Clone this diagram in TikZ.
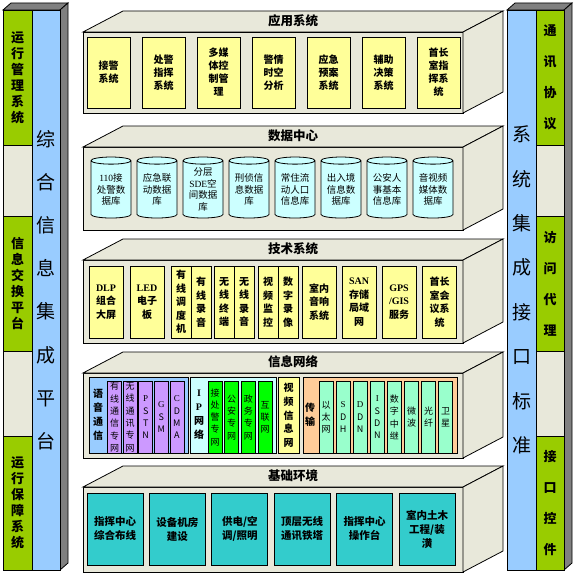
\documentclass[tikz,border=0pt]{standalone}
\usepackage{fontspec}
\setmainfont{Liberation Serif}
\newfontfamily\cjk{Noto Sans CJK SC}
\usepackage{tikz}
\usetikzlibrary{shapes.geometric}
\usepackage{xcolor}
\definecolor{layerbg}{HTML}{E8E8DA}
\definecolor{pillgreen}{HTML}{99CC00}
\definecolor{pillblue}{HTML}{99CCFF}
\definecolor{pillside}{HTML}{808080}
\definecolor{appyellow}{HTML}{FFFF99}
\definecolor{dbcyan}{HTML}{CCFFFF}
\definecolor{netpurple}{HTML}{CC99FF}
\definecolor{netgreen}{HTML}{00FF00}
\definecolor{netorange}{HTML}{FFCC99}
\definecolor{netmint}{HTML}{99FFCC}
\definecolor{basecyan}{HTML}{33CCCC}

\begin{document}
\begin{tikzpicture}[x=1pt, y=-1pt, line width=0.8pt,
    layer/.style={draw, fill=layerbg},
    title/.style={font=\cjk\bfseries\fontsize{12.5}{14}\selectfont},
    appbox/.style={draw, fill=appyellow, minimum width=43pt, minimum height=71pt, inner sep=0pt, align=center, font=\cjk\bfseries\fontsize{10}{13}\selectfont},
    dbcyl/.style={draw, fill=dbcyan, cylinder, shape border rotate=90, aspect=0.25, minimum width=40pt, minimum height=61pt, inner sep=0pt, align=center, font=\cjk\fontsize{9.5}{11.5}\selectfont},
    techbox/.style={draw, fill=appyellow, minimum width=34pt, minimum height=72pt, inner sep=0pt, align=center, font=\cjk\bfseries\fontsize{10}{13.5}\selectfont},
    halfbox/.style={techbox, minimum width=20pt},
    netgroup/.style={draw, minimum height=76.5pt, inner sep=0pt},
    netlabel/.style={align=center, inner sep=0pt, font=\cjk\bfseries\fontsize{10}{14}\selectfont},
    netbox/.style={draw, minimum width=14pt, minimum height=72.5pt, inner sep=0pt, align=center, font=\cjk\fontsize{9}{12.3}\selectfont},
    basebox/.style={draw, fill=basecyan, minimum width=56pt, minimum height=72pt, inner sep=0pt, align=center, font=\cjk\bfseries\fontsize{10.5}{14}\selectfont},
    pillar/.style={draw, inner sep=0pt, align=center},
    sideface/.style={draw, fill=pillside}
]
\useasboundingbox (0,0) rectangle (577,575);
% Layer boxes
\draw[layer] (83,32) rectangle (463,113);
\draw[layer] (83,32) -- (123,11) -- (503,11) -- (463,32) -- cycle;
\draw[layer] (463,32) -- (503,11) -- (503,92) -- (463,113) -- cycle;
\draw[layer] (83,147) rectangle (463,230);
\draw[layer] (83,147) -- (123,126) -- (503,126) -- (463,147) -- cycle;
\draw[layer] (463,147) -- (503,126) -- (503,209) -- (463,230) -- cycle;
\draw[layer] (83,260) rectangle (463,343);
\draw[layer] (83,260) -- (123,239) -- (503,239) -- (463,260) -- cycle;
\draw[layer] (463,260) -- (503,239) -- (503,322) -- (463,343) -- cycle;
\draw[layer] (83,373) rectangle (463,458);
\draw[layer] (83,373) -- (123,352) -- (503,352) -- (463,373) -- cycle;
\draw[layer] (463,373) -- (503,352) -- (503,437) -- (463,458) -- cycle;
\draw[layer] (83,487) rectangle (463,572);
\draw[layer] (83,487) -- (123,466) -- (503,466) -- (463,487) -- cycle;
\draw[layer] (463,487) -- (503,466) -- (503,551) -- (463,572) -- cycle;
% Titles
\node[title] (t-app) at (293,21) {应用系统};
\node[title] (t-data) at (293,136) {数据中心};
\node[title] (t-tech) at (293,249) {技术系统};
\node[title] (t-net) at (293,362) {信息网络};
\node[title] (t-base) at (293,476) {基础环境};
% Application row
\node[appbox] (a1) at (108.5,72.5) {接警\\系统};
\node[appbox] (a2) at (163.5,72.5) {处警\\指挥\\系统};
\node[appbox] (a3) at (218.5,72.5) {多媒\\体控\\制管\\理};
\node[appbox] (a4) at (273.5,72.5) {警情\\时空\\分析};
\node[appbox] (a5) at (328.5,72.5) {应急\\预案\\系统};
\node[appbox] (a6) at (383.5,72.5) {辅助\\决策\\系统};
\node[appbox] (a7) at (438.5,72.5) {首长\\室指\\挥系\\统};
% Data row
\node[dbcyl] (d1) at (111,189.5) {{\rmfamily 110}接\\处警数\\据库};
\node[dbcyl] (d2) at (157,189.5) {应急联\\动数据\\库};
\node[dbcyl] (d3) at (203,189.5) {分层\\{\rmfamily SDE}空\\间数据\\库};
\node[dbcyl] (d4) at (249,189.5) {刑侦信\\息数据\\库};
\node[dbcyl] (d5) at (295,189.5) {常住流\\动人口\\信息库};
\node[dbcyl] (d6) at (341,189.5) {出入境\\信息数\\据库};
\node[dbcyl] (d7) at (387,189.5) {公安人\\事基本\\信息库};
\node[dbcyl] (d8) at (433,189.5) {音视频\\媒体数\\据库};
% Tech row
\node[techbox] (s1) at (106,302) {{\rmfamily DLP}\\组合\\大屏};
\node[techbox] (s2) at (147,302) {{\rmfamily LED}\\电子\\板};
\node[halfbox] (s3) at (181,302) {有\\线\\调\\度\\机};
\node[halfbox] (s4) at (201,302) {有\\线\\录\\音};
\node[halfbox] (s5) at (224,302) {无\\线\\终\\端};
\node[halfbox] (s6) at (244,302) {无\\线\\录\\音};
\node[halfbox] (s7) at (268,302) {视\\频\\监\\控};
\node[halfbox] (s8) at (288,302) {数\\字\\录\\像};
\node[techbox] (s9) at (319,302) {室内\\音响\\系统};
\node[techbox] (s10) at (359,302) {{\rmfamily SAN}\\存储\\局域\\网};
\node[techbox] (s11) at (399,302) {{\rmfamily GPS}\\{\rmfamily /GIS}\\服务};
\node[techbox] (s12) at (439.5,302) {首长\\室会\\议系\\统};
% Network row
\node[netgroup, fill=pillblue, minimum width=99pt] (voice) at (138.5,415.25) {};
\node[netlabel] (voice-l) at (98,415) {语\\音\\通\\信};
\node[netbox, fill=netpurple] (v1) at (114.5,417.25) {有\\线\\通\\信\\专\\网};
\node[netbox, fill=netpurple] (v2) at (130.1,417.25) {无\\线\\通\\讯\\专\\网};
\node[netbox, fill=netpurple] (v3) at (145.7,417.25) {\rmfamily P\\S\\T\\N};
\node[netbox, fill=netpurple] (v4) at (161.3,417.25) {\rmfamily G\\S\\M};
\node[netbox, fill=netpurple] (v5) at (176.9,417.25) {\rmfamily C\\D\\M\\A};
\node[netgroup, fill=dbcyan, minimum width=86pt] (ip) at (233,415.25) {};
\node[netlabel] (ip-l) at (199,415) {{\rmfamily I}\\{\rmfamily P}\\网\\络};
\node[netbox, fill=netgreen] (i1) at (215,417.25) {接\\处\\警\\专\\网};
\node[netbox, fill=netgreen] (i2) at (231.7,417.25) {公\\安\\专\\网};
\node[netbox, fill=netgreen] (i3) at (248.4,417.25) {政\\务\\专\\网};
\node[netbox, fill=netgreen] (i4) at (265.1,417.25) {互\\联\\网};
\node[netgroup, fill=appyellow, minimum width=21pt, align=center, font=\cjk\bfseries\fontsize{10}{13.7}\selectfont] (video) at (288.5,415.25) {视\\频\\信\\息\\网};
\node[netgroup, fill=netorange, minimum width=154pt] (trans) at (380,415.25) {};
\node[netlabel] (trans-l) at (310,415) {传\\输};
\node[netbox, fill=netmint] (m1) at (326,417.25) {以\\太\\网};
\node[netbox, fill=netmint] (m2) at (343.1,417.25) {\rmfamily S\\D\\H};
\node[netbox, fill=netmint] (m3) at (360.2,417.25) {\rmfamily D\\D\\N};
\node[netbox, fill=netmint] (m4) at (377.3,417.25) {\rmfamily I\\S\\D\\N};
\node[netbox, fill=netmint] (m5) at (394.4,417.25) {数\\字\\中\\继};
\node[netbox, fill=netmint] (m6) at (411.5,417.25) {微\\波};
\node[netbox, fill=netmint] (m7) at (428.6,417.25) {光\\纤};
\node[netbox, fill=netmint] (m8) at (445.7,417.25) {卫\\星};
% Base row
\node[basebox] (b1) at (115,529) {指挥中心\\综合布线};
\node[basebox] (b2) at (177.4,529) {设备机房\\建设};
\node[basebox] (b3) at (239.8,529) {供电/空\\调/照明};
\node[basebox] (b4) at (302.2,529) {顶层无线\\通讯铁塔};
\node[basebox] (b5) at (364.6,529) {指挥中心\\操作台};
\node[basebox] (b6) at (427,529) {室内土木\\工程/装\\潢};
% Left pillar
\draw[sideface] (3,10) -- (11,3) -- (68,3) -- (60,10) -- cycle;
\draw[sideface] (60,10) -- (68,3) -- (68,563) -- (60,570) -- cycle;
\node[pillar, fill=pillgreen, minimum width=29pt, minimum height=135pt, font=\cjk\bfseries\fontsize{13}{16}\selectfont] (l1) at (17.5,77.5) {运\\行\\管\\理\\系\\统};
\node[pillar, fill=layerbg, minimum width=29pt, minimum height=71pt] (l2) at (17.5,180.5) {};
\node[pillar, fill=pillgreen, minimum width=29pt, minimum height=135pt, font=\cjk\bfseries\fontsize{13}{16}\selectfont] (l3) at (17.5,283.5) {信\\息\\交\\换\\平\\台};
\node[pillar, fill=layerbg, minimum width=29pt, minimum height=85pt] (l4) at (17.5,393.5) {};
\node[pillar, fill=pillgreen, minimum width=29pt, minimum height=134pt, font=\cjk\bfseries\fontsize{13}{16}\selectfont] (l5) at (17.5,503) {运\\行\\保\\障\\系\\统};
\node[pillar, fill=pillblue, minimum width=28pt, minimum height=560pt, font=\cjk\fontsize{19}{43.2}\selectfont] (lmain) at (46,290) {综\\合\\信\\息\\集\\成\\平\\台};
% Right pillar
\draw[sideface] (507,10) -- (515,3) -- (572,3) -- (564,10) -- cycle;
\draw[sideface] (564,10) -- (572,3) -- (572,563) -- (564,570) -- cycle;
\node[pillar, fill=pillblue, minimum width=29pt, minimum height=560pt, font=\cjk\fontsize{19}{44.4}\selectfont] (rmain) at (521.5,290) {系\\统\\集\\成\\接\\口\\标\\准};
\node[pillar, fill=pillgreen, minimum width=28pt, minimum height=135pt, font=\cjk\bfseries\fontsize{13}{31}\selectfont] (r1) at (550,77.5) {通\\讯\\协\\议};
\node[pillar, fill=layerbg, minimum width=28pt, minimum height=71pt] (r2) at (550,180.5) {};
\node[pillar, fill=pillgreen, minimum width=28pt, minimum height=135pt, font=\cjk\bfseries\fontsize{13}{31}\selectfont] (r3) at (550,283.5) {访\\问\\代\\理};
\node[pillar, fill=layerbg, minimum width=28pt, minimum height=85pt] (r4) at (550,393.5) {};
\node[pillar, fill=pillgreen, minimum width=28pt, minimum height=134pt, font=\cjk\bfseries\fontsize{13}{31}\selectfont] (r5) at (550,503) {接\\口\\控\\件};
\end{tikzpicture}
\end{document}
